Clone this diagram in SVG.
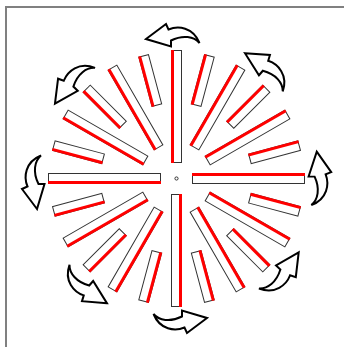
<svg xmlns="http://www.w3.org/2000/svg" xmlns:xlink="http://www.w3.org/1999/xlink" width="344" height="347" viewBox="0 0 344 347">
<style>
.rod{fill:#fff;stroke:#333;stroke-width:1}
.red{fill:#f00;stroke:none}
.arrow{fill:#fff;stroke:#000;stroke-width:2;stroke-linejoin:miter}
.frame{fill:none;stroke:#808080;stroke-width:2}
</style>
<defs>
<g id="rodC"><rect class="rod" x="-5" y="-128" width="10" height="112"/><rect class="red" x="-5.5" y="-128.5" width="3" height="113"/></g>
<g id="rodL"><rect class="rod" x="-5" y="-128" width="10" height="92"/><rect class="red" x="-5.5" y="-128.5" width="3" height="93"/></g>
<g id="rodS"><rect class="rod" x="-5" y="-127" width="10" height="51"/><rect class="red" x="-5.5" y="-127.5" width="3" height="52"/></g>
<path id="arr" class="arrow" d="M146,39 L166,24 L168.5,29.5 C178,25.5 193,27 199.5,43 C194,36.5 183,34.5 171,40.5 L171,46.5 Z"/>
</defs>
<rect width="344" height="347" fill="#fff"/>
<path class="frame" d="M6,347 V7 H344"/>
<g id="rods" transform="translate(176.5,178.5)">
<g id="rod-000"><use xlink:href="#rodC" transform="rotate(0)"/></g>
<g id="rod-015"><use xlink:href="#rodS" transform="rotate(15)"/></g>
<g id="rod-030"><use xlink:href="#rodL" transform="rotate(30)"/></g>
<g id="rod-045"><use xlink:href="#rodS" transform="rotate(45)"/></g>
<g id="rod-060"><use xlink:href="#rodL" transform="rotate(60)"/></g>
<g id="rod-075"><use xlink:href="#rodS" transform="rotate(75)"/></g>
<g id="rod-090"><use xlink:href="#rodC" transform="rotate(90)"/></g>
<g id="rod-105"><use xlink:href="#rodS" transform="rotate(105)"/></g>
<g id="rod-120"><use xlink:href="#rodL" transform="rotate(120)"/></g>
<g id="rod-135"><use xlink:href="#rodS" transform="rotate(135)"/></g>
<g id="rod-150"><use xlink:href="#rodL" transform="rotate(150)"/></g>
<g id="rod-165"><use xlink:href="#rodS" transform="rotate(165)"/></g>
<g id="rod-180"><use xlink:href="#rodC" transform="rotate(180)"/></g>
<g id="rod-195"><use xlink:href="#rodS" transform="rotate(195)"/></g>
<g id="rod-210"><use xlink:href="#rodL" transform="rotate(210)"/></g>
<g id="rod-225"><use xlink:href="#rodS" transform="rotate(225)"/></g>
<g id="rod-240"><use xlink:href="#rodL" transform="rotate(240)"/></g>
<g id="rod-255"><use xlink:href="#rodS" transform="rotate(255)"/></g>
<g id="rod-270"><use xlink:href="#rodC" transform="rotate(270)"/></g>
<g id="rod-285"><use xlink:href="#rodS" transform="rotate(285)"/></g>
<g id="rod-300"><use xlink:href="#rodL" transform="rotate(300)"/></g>
<g id="rod-315"><use xlink:href="#rodS" transform="rotate(315)"/></g>
<g id="rod-330"><use xlink:href="#rodL" transform="rotate(330)"/></g>
<g id="rod-345"><use xlink:href="#rodS" transform="rotate(345)"/></g>
<g id="center"><circle r="1.6" fill="none" stroke="#333" stroke-width="1"/></g>
</g>
<g id="arrows">
<use xlink:href="#arr" transform="rotate(0 176.5 178.5)"/>
<use xlink:href="#arr" transform="rotate(41 176.5 178.5)"/>
<use xlink:href="#arr" transform="rotate(91.5 176.5 178.5)"/>
<use xlink:href="#arr" transform="rotate(133.5 176.5 178.5)"/>
<use xlink:href="#arr" transform="rotate(180 176.5 178.5)"/>
<use xlink:href="#arr" transform="rotate(221.5 176.5 178.5)"/>
<use xlink:href="#arr" transform="rotate(270 176.5 178.5)"/>
<use xlink:href="#arr" transform="rotate(314 176.5 178.5)"/>
</g>
</svg>
